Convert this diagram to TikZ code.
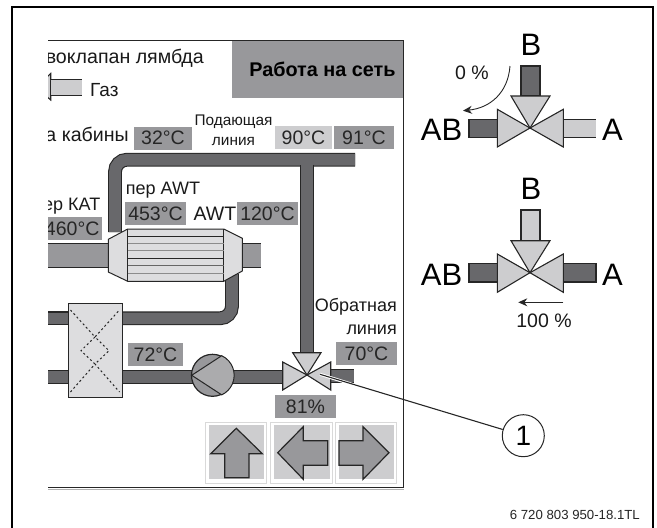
\documentclass[tikz,border=0pt]{standalone}
\usepackage{fontspec}
\setmainfont{Liberation Sans}
\usetikzlibrary{arrows.meta,calc}
\definecolor{linedark}{HTML}{262626}
\definecolor{pipedark}{HTML}{68686B}
\definecolor{pipemid}{HTML}{98989B}
\definecolor{pumplight}{HTML}{ABABAD}
\definecolor{valvelight}{HTML}{CDCDCF}
\definecolor{bodylight}{HTML}{DDDDDF}
\newcommand{\pxfont}[1]{\fontsize{#1}{#1}\selectfont}
\tikzset{
	pipe/.style={draw=linedark,line width=1.1pt,double=pipedark,double distance=11.6pt},
	pipelite/.style={draw=linedark,line width=1.1pt,double=valvelight,double distance=14.4pt},
	pipewide/.style={draw=linedark,line width=1.1pt,double=pipemid,double distance=22.6pt},
	valvepart/.style={draw=linedark,line width=1.1pt,fill=valvelight,line join=miter},
	valbox/.style={fill=pipemid,inner sep=0pt,minimum height=23pt,font=\pxfont{19.5},text=black!85},
	lbl/.style={inner sep=0pt,text=black!90,font=\pxfont{18}},
	big/.style={inner sep=0pt,font=\pxfont{31}},
	button/.style={draw=black!15,line width=.7pt,fill=white},
	keyface/.style={fill=valvelight},
	keyarrow/.style={draw=linedark,line width=1.2pt,fill=pipemid,line join=miter}
}
\begin{document}
\begin{tikzpicture}[x=1pt,y=-1pt]
	\useasboundingbox (0,0) rectangle (657,528);
	\draw[line width=2pt] (12,528) -- (12,7) -- (653,7) -- (653,528);
	\draw[line width=1pt,draw=linedark] (48,40.5) -- (403,40.5) -- (403,487.7) -- (48,487.7);
	\draw[line width=.6pt,draw=black!30] (48,489) -- (403.5,489);
	\node[fill=pipemid,minimum width=171pt,minimum height=57pt,inner sep=0pt,font=\pxfont{19.8}\bfseries] (title) at (317.5,69.5) {\hspace*{10pt}Работа на сеть};
	\begin{scope}
		\clip (48,30) rectangle (403,495);
		\draw[pipewide] (48,255.3) -- (260.7,255.3);
		\draw[pipe] (48,318.3) -- (68,318.3);
		\draw[pipe] (48,376.7) -- (68,376.7);
		\draw[valvepart] (36,87) -- (50.7,73.5) -- (50.7,100) -- cycle;
		\draw[pipelite] (50.7,87.6) -- (81.7,87.6);
		\node[lbl,anchor=east,font=\pxfont{19.6}] (lamb) at (204,58.5) {воклапан лямбда};
		\node[lbl,anchor=east,font=\pxfont{19.6}] (cab) at (129,134) {а кабины};
		\node[lbl,anchor=east] (kat) at (100.5,206) {ер КАТ};
		\node[valbox,minimum width=60pt,anchor=west] (t460) at (42,228.5) {460°C};
	\end{scope}
	\node[lbl,anchor=west,font=\pxfont{19}] (gas) at (90,90) {Газ};
	\node[valbox,minimum width=58pt] (t32) at (163,138) {32°C};
	\node[lbl,font=\pxfont{15.4},align=center] (feed) at (233.5,130) {Подающая\\[4.5pt]линия};
	\node[valbox,minimum width=57pt,fill=valvelight] (t90) at (303.5,137.5) {90°C};
	\node[valbox,minimum width=60pt] (t91) at (364,137.5) {91°C};
	\node[lbl] (awtin) at (163,190) {пер AWT};
	\node[valbox,minimum width=61pt] (t453) at (155.5,213.5) {453°C};
	\node[lbl,font=\pxfont{19.5}] (awt) at (215,213.5) {AWT};
	\node[valbox,minimum width=61pt] (t120) at (267.5,213.5) {120°C};
	\node[lbl,align=right,anchor=east] (ret) at (397,316.5) {Обратная\\[4.5pt]линия};
	\node[valbox,minimum width=61pt] (t70) at (366.5,353.5) {70°C};
	\node[valbox,minimum width=55pt] (t72) at (155.5,354.5) {72°C};
	\node[valbox,minimum width=61pt] (t81) at (305.5,406.5) {81\%};
	\draw[pipe,rounded corners=12pt] (115,232) -- (115,159.7) -- (355,159.7);
	\draw[pipe] (307,164.9) -- (307,353);
	\draw[pipe,rounded corners=12pt] (122,318.3) -- (232,318.3) -- (232,274);
	\draw[pipe] (122,376.7) -- (283,376.7);
	\draw[pipe] (330,375.8) -- (353.5,375.8);
	\draw[draw=linedark,line width=1pt,fill=bodylight] (108.3,239.3) -- (127.7,229) -- (223.7,229) -- (242.3,238.3) -- (242.3,271) -- (223.7,281.3) -- (127.7,281.3) -- (108.3,272) -- cycle;
	\draw[draw=linedark,line width=1pt] (127.7,229) -- (127.7,281.3) (223.7,229) -- (223.7,281.3);
	\foreach \y in {236,258.3} \draw[draw=linedark,line width=.9pt] (127.7,\y) -- (223.7,\y);
	\draw[draw=black!60,line width=1pt] (127.7,265.7) -- (223.7,265.7);
	\foreach \y in {243.3,250.7,273.3} \draw[draw=black!45,line width=1.1pt] (127.7,\y) -- (223.7,\y);
	\draw[draw=linedark,line width=1pt,fill=bodylight] (68.3,303.7) rectangle (122,397);
	\draw[draw=linedark,line width=1pt,dash pattern=on 2pt off 2.6pt] (70.5,310) -- (95,337) -- (119.5,310) (95,337) -- (81,350.7) -- (95,364) -- (109,350.7) -- cycle (70.5,392) -- (95,364) -- (119.5,392);
	\draw[draw=linedark,line width=1.2pt,fill=pipemid] (212.5,375.3) circle (21);
	\draw[draw=linedark,line width=1pt,fill=pumplight] (191.7,375.3) -- (221.7,355.7) arc (-65:65:21.6) -- cycle;
	\draw[valvepart] (307,375) -- (282.7,362) -- (282.7,390) -- cycle;
	\draw[valvepart] (307,375) -- (330.7,362) -- (330.7,390) -- cycle;
	\draw[valvepart] (307,375) -- (292.7,352.7) -- (321,352.7) -- cycle;
	\foreach \xa/\xb/\xc/\xd in {205.7/266.7/209/264,270.7/332.7/274/330,335/396.7/339/394} {
		\draw[button] (\xa,422.7) rectangle (\xb,483.3);
		\fill[keyface] (\xc,425) rectangle (\xd,479.3);
	}
	\draw[keyarrow] (236.3,428.3) -- (262.3,453.7) -- (249,453.7) -- (249,477.7) -- (224.7,477.7) -- (224.7,453.7) -- (210.7,453.7) -- cycle;
	\draw[keyarrow] (277.7,452.7) -- (303.3,426.7) -- (303.3,440.7) -- (327.7,440.7) -- (327.7,465.3) -- (303.3,465.3) -- (303.3,479.3) -- cycle;
	\draw[keyarrow] (389,452.7) -- (363,426.7) -- (363,440.7) -- (339,440.7) -- (339,465.3) -- (363,465.3) -- (363,479.3) -- cycle;
	\node[big] (bup) at (531,45) {B};
	\node[big] (abup) at (441.5,130) {AB};
	\node[big] (aup) at (612.5,130) {A};
	\node[lbl,font=\pxfont{19.5}] (zero) at (472,72.5) {0 \%};
	\coordinate (zfrom) at (510,66);
	\coordinate (zto) at (463,110.7);
	\draw[-{Stealth[length=9pt,width=8pt]},line width=.9pt,draw=linedark] (zfrom) .. controls (508,93) and (490,108) .. (zto);
	\draw[draw=linedark,line width=1.1pt,fill=pipedark] (521,66) rectangle (540,96);
	\draw[draw=linedark,line width=1.1pt,fill=pipedark] (497,119.3) -- (469,119.3) -- (469,137.7) -- (497,137.7);
	\fill[valvelight] (563,119.8) rectangle (596,137.2);
	\draw[draw=linedark,line width=1.1pt] (563,119.3) -- (596,119.3) (563,137.7) -- (596,137.7);
	\draw[valvepart] (530,128) -- (497.3,109.3) -- (497.3,147) -- cycle;
	\draw[valvepart] (530,128) -- (563.3,109.3) -- (563.3,147) -- cycle;
	\draw[valvepart] (530,128) -- (511,96) -- (550,96) -- cycle;
	\node[big] (bdn) at (531,189) {B};
	\node[big] (abdn) at (441.5,275) {AB};
	\node[big] (adn) at (612.5,275) {A};
	\draw[draw=linedark,line width=1.1pt,fill=valvelight] (521,210) rectangle (540,241);
	\draw[draw=linedark,line width=1.1pt,fill=pipedark] (497,263.6) -- (469,263.6) -- (469,282) -- (497,282);
	\draw[draw=linedark,line width=1.1pt,fill=pipedark] (563,263.6) -- (596,263.6) -- (596,282) -- (563,282);
	\draw[valvepart] (530,272.7) -- (497.3,254) -- (497.3,292.3) -- cycle;
	\draw[valvepart] (530,272.7) -- (563.3,254) -- (563.3,292.3) -- cycle;
	\draw[valvepart] (530,272.7) -- (511,240.7) -- (550,240.7) -- cycle;
	\coordinate (hfrom) at (563.3,302.3);
	\coordinate (hto) at (518.3,302.3);
	\draw[-{Stealth[length=9pt,width=8pt]},line width=.9pt,draw=linedark] (hfrom) -- (hto);
	\node[lbl,font=\pxfont{19.5}] (full) at (544,321) {100 \%};
	\node[circle,draw=linedark,line width=1pt,minimum size=42pt,inner sep=0pt,font=\pxfont{28}] (call) at (523.3,435.7) {1};
	\coordinate (lead) at (320,374.3);
	\coordinate (halo) at (356,385.5);
	\draw[white,line width=3pt] (lead) -- (halo);
	\draw[draw=linedark,line width=1.1pt] (lead) -- (call);
	\node[inner sep=0pt,anchor=east,font=\pxfont{13.2},text=black!85] (code) at (640,515) {6 720 803 950-18.1TL};
\end{tikzpicture}
\end{document}
